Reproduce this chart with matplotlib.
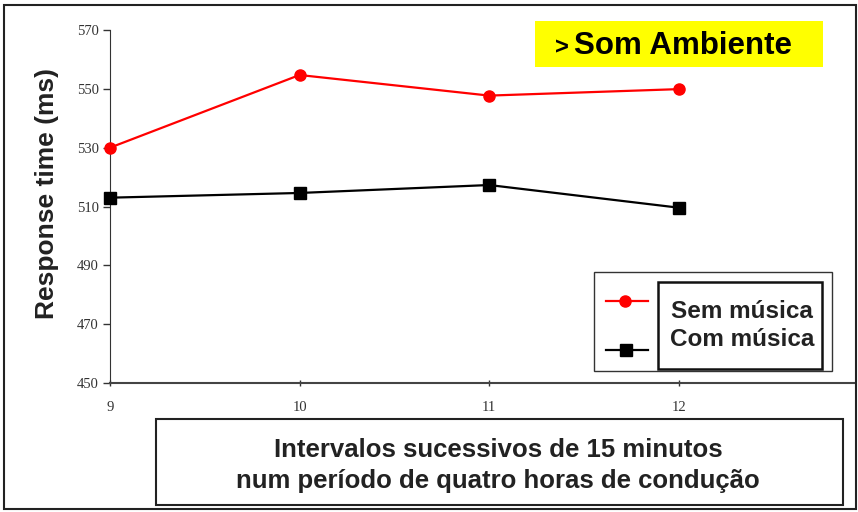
import matplotlib
matplotlib.use("Agg")
import matplotlib.pyplot as plt
from matplotlib.patches import Rectangle
from matplotlib.lines import Line2D

intervals = [9, 10, 11, 12]
sem_musica = [530, 554.7, 547.7, 549.9]
com_musica = [513, 514.6, 517.3, 509.6]
yticks = [450, 470, 490, 510, 530, 550, 570]
xticks = [9, 10, 11, 12]

W, H = 858, 512
fig = plt.figure(figsize=(W/100, H/100), dpi=100)
fig.patch.set_facecolor("white")

def fx(px): return px / W
def fy(py): return 1 - py / H

# outer frame
fig.add_artist(Rectangle((fx(4), fy(509)), fx(852)-fx(0), fy(5)-fy(509), transform=fig.transFigure,
                         fill=False, edgecolor="#222222", linewidth=1.5))

ax = fig.add_axes([fx(110), fy(383), fx(855)-fx(110), fy(30)-fy(383)])
ax.set_facecolor("none")
ax.plot(intervals, sem_musica, color="#ff0000", marker="o", markersize=8, linewidth=1.6, clip_on=False, zorder=3)
ax.plot(intervals, com_musica, color="black", marker="s", markersize=8, linewidth=1.6, clip_on=False, zorder=3)
ax.set_xlim(9, 12.93)
ax.set_ylim(450, 570)
ax.set_yticks(yticks)
ax.set_xticks(xticks)
for s in ["top", "right"]:
    ax.spines[s].set_visible(False)
ax.spines["left"].set_color("#333333")
ax.spines["bottom"].set_color("#444444")
ax.spines["bottom"].set_linewidth(1.5)
ax.tick_params(axis="y", length=5, width=1, color="#333333", labelsize=10.5, pad=3, labelcolor="#333333")
ax.tick_params(axis="x", length=4, width=1, color="#333333", labelsize=10.5, pad=11, labelcolor="#333333", direction="inout")
for lab in ax.get_xticklabels() + ax.get_yticklabels():
    lab.set_family("Liberation Serif")
ax.set_ylabel("Response time (ms)", fontsize=19, fontweight="bold", family="Liberation Sans", color="#222222")
ax.yaxis.set_label_coords(-0.0686, 0.538)

# title box
fig.add_artist(Rectangle((fx(535), fy(67)), fx(823)-fx(535), fy(21)-fy(67), transform=fig.transFigure,
                         facecolor="#ffff00", edgecolor="none"))
fig.text(fx(555), fy(48), ">", ha="left", va="center", fontsize=17, fontweight="bold", family="Liberation Sans")
fig.text(fx(574), fy(46), "Som Ambiente", ha="left", va="center", fontsize=22.5,
         fontweight="bold", family="Liberation Sans")

# legend boxes
fig.add_artist(Rectangle((fx(594), fy(371)), fx(832)-fx(594), fy(272)-fy(371), transform=fig.transFigure,
                         facecolor="white", edgecolor="#333333", linewidth=1.0))
fig.add_artist(Rectangle((fx(658), fy(369)), fx(822)-fx(658), fy(282)-fy(369), transform=fig.transFigure,
                         facecolor="white", edgecolor="#111111", linewidth=1.8))
fig.add_artist(Line2D([fx(606), fx(648)], [fy(301), fy(301)], transform=fig.transFigure,
                      color="#ff0000", linewidth=1.6))
fig.add_artist(Line2D([fx(625)], [fy(301)], transform=fig.transFigure, color="#ff0000", marker="o", markersize=8))
fig.add_artist(Line2D([fx(606), fx(648)], [fy(350), fy(350)], transform=fig.transFigure,
                      color="black", linewidth=1.6))
fig.add_artist(Line2D([fx(626)], [fy(350)], transform=fig.transFigure, color="black", marker="s", markersize=8))
fig.text(fx(742), fy(312), "Sem música", ha="center", va="center", fontsize=17.5, fontweight="bold",
         family="Liberation Sans", color="#222222")
fig.text(fx(742), fy(340), "Com música", ha="center", va="center", fontsize=17.5, fontweight="bold",
         family="Liberation Sans", color="#222222")

# xlabel box
fig.add_artist(Rectangle((fx(156), fy(505)), fx(843)-fx(156), fy(419)-fy(505), transform=fig.transFigure,
                         facecolor="white", edgecolor="#222222", linewidth=1.5))
fig.text(fx(498), fy(450), "Intervalos sucessivos de 15 minutos", ha="center", va="center", fontsize=18.5,
         fontweight="bold", family="Liberation Sans", color="#222222")
fig.text(fx(498), fy(481), "num período de quatro horas de condução", ha="center", va="center", fontsize=18.5,
         fontweight="bold", family="Liberation Sans", color="#222222")

fig.savefig("out.png", dpi=100)
